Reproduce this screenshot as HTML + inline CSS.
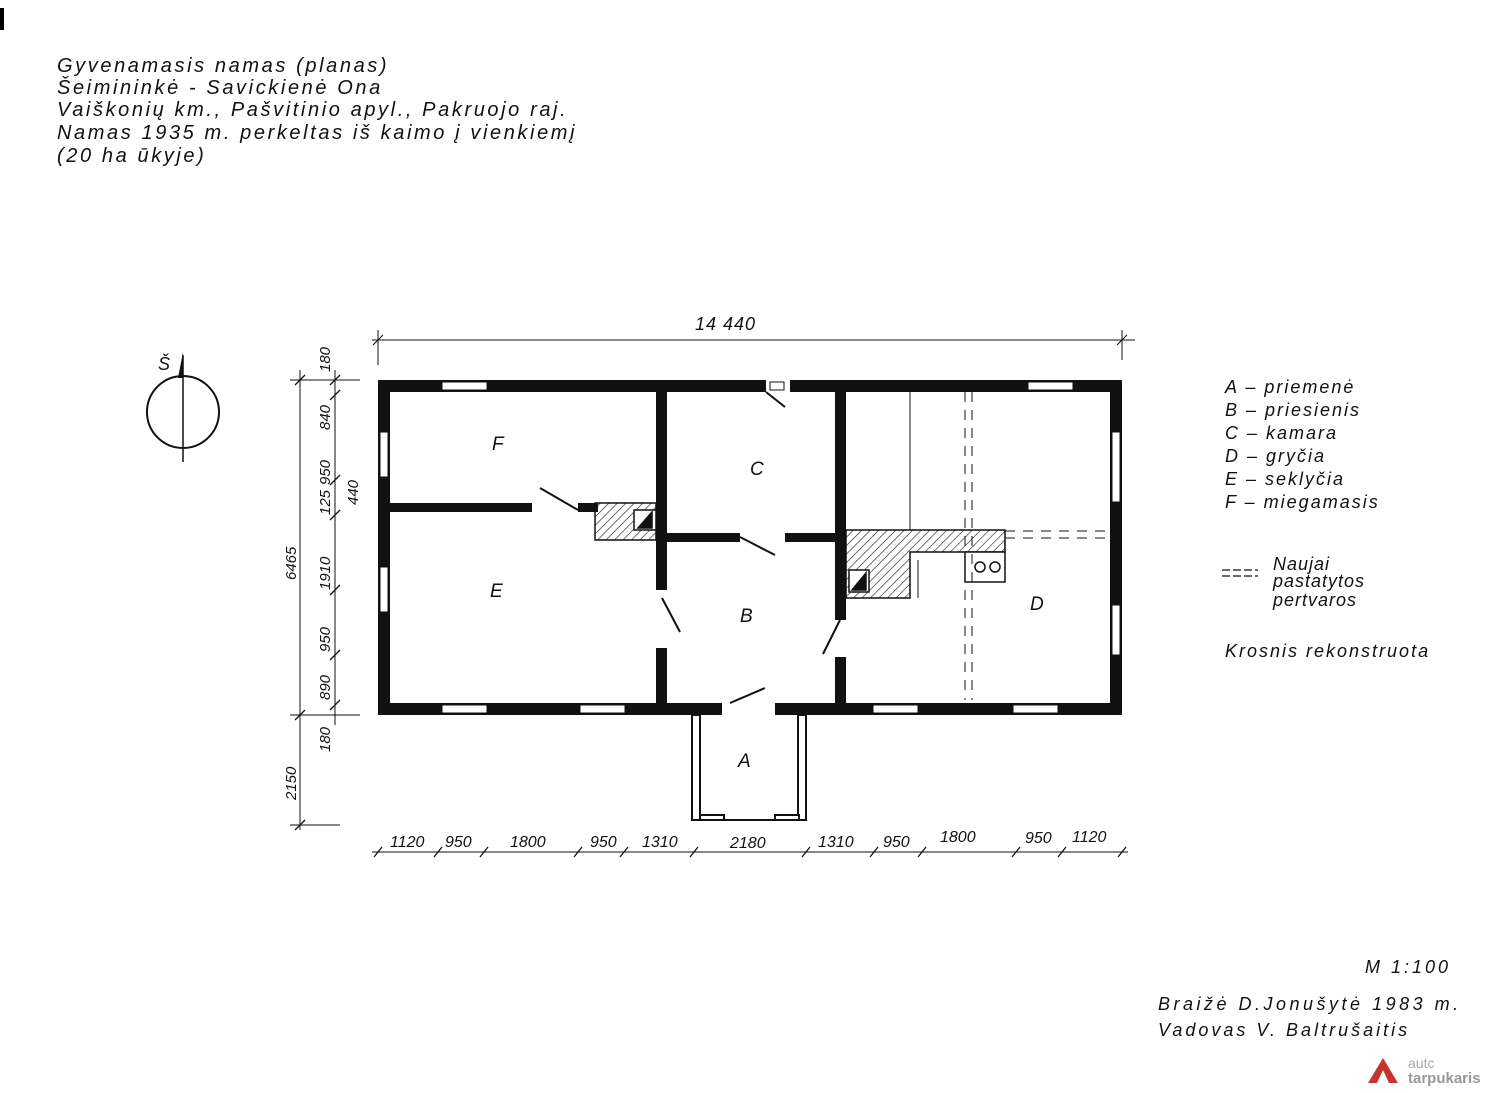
<!DOCTYPE html>
<html><head><meta charset="utf-8"><style>
html,body{margin:0;padding:0;background:#fff}
svg{display:block}
text{font-family:"Liberation Sans",sans-serif;font-style:italic;fill:#111}
</style></head><body>
<svg width="1500" height="1093" viewBox="0 0 1500 1093" xmlns="http://www.w3.org/2000/svg">
<rect width="1500" height="1093" fill="#fff"/>
<defs>
<pattern id="h" width="6" height="6" patternUnits="userSpaceOnUse" patternTransform="rotate(45)">
<line x1="0" y1="0" x2="0" y2="6" stroke="#111" stroke-width="1.2"/></pattern>
</defs>
<rect x="0" y="8" width="4" height="22" fill="#000"/>
<g font-size="20" letter-spacing="2.6">
<text x="57" y="72">Gyvenamasis namas (planas)</text>
<text x="57" y="94">Šeimininkė - Savickienė Ona</text>
<text x="57" y="116">Vaiškonių km., Pašvitinio apyl., Pakruojo raj.</text>
<text x="57" y="139">Namas  1935 m. perkeltas iš kaimo į vienkiemį</text>
<text x="57" y="162">(20 ha ūkyje)</text>
</g>
<!-- north -->
<circle cx="183" cy="412" r="36" fill="none" stroke="#111" stroke-width="2"/>
<line x1="183" y1="355" x2="183" y2="462" stroke="#111" stroke-width="1.5"/>
<polygon points="183,352 178,378 183,378" fill="#111"/>
<text x="158" y="370" font-size="18">Š</text>
<!-- walls -->
<g fill="#111">
<rect x="378" y="380" width="388" height="12"/>
<rect x="790" y="380" width="332" height="12"/>
<rect x="378" y="380" width="12" height="335"/>
<rect x="1110" y="380" width="12" height="335"/>
<rect x="378" y="703" width="344" height="12"/>
<rect x="775" y="703" width="347" height="12"/>
<rect x="390" y="503" width="142" height="9"/>
<rect x="656" y="392" width="11" height="198"/>
<rect x="656" y="648" width="11" height="55"/>
<rect x="667" y="533" width="73" height="9"/>
<rect x="785" y="533" width="60" height="9"/>
<rect x="835" y="392" width="11" height="228"/>
<rect x="835" y="657" width="11" height="46"/>
<rect x="578" y="503" width="20" height="9"/>
</g>
<!-- windows -->
<g fill="#fff" stroke="#111" stroke-width="1">
<rect x="442" y="382" width="45" height="8"/><rect x="1028" y="382" width="45" height="8"/>
<rect x="442" y="705" width="45" height="8"/><rect x="580" y="705" width="45" height="8"/>
<rect x="873" y="705" width="45" height="8"/><rect x="1013" y="705" width="45" height="8"/>
<rect x="380" y="432" width="8" height="45"/><rect x="380" y="567" width="8" height="45"/>
<rect x="1112" y="432" width="8" height="70"/><rect x="1112" y="605" width="8" height="50"/>
<rect x="770" y="382" width="14" height="8"/>
</g>
<!-- porch -->
<g stroke="#111" stroke-width="2" fill="none">
<rect x="692" y="715" width="8" height="105"/><rect x="798" y="715" width="8" height="105"/>
<line x1="692" y1="820" x2="806" y2="820"/>
<rect x="700" y="815" width="24" height="5" fill="#fff"/><rect x="775" y="815" width="24" height="5" fill="#fff"/>
</g>
<!-- doors -->
<g stroke="#111" stroke-width="2">
<line x1="766" y1="392" x2="785" y2="407"/>
<line x1="540" y1="488" x2="578" y2="510"/>
<line x1="740" y1="537" x2="775" y2="555"/>
<line x1="662" y1="598" x2="680" y2="632"/>
<line x1="840" y1="620" x2="823" y2="654"/>
<line x1="730" y1="703" x2="765" y2="688"/>
</g>
<!-- stoves -->
<g stroke="#111" stroke-width="1.5">
<rect x="595" y="503" width="61" height="37" fill="url(#h)"/>
<rect x="634" y="510" width="22" height="20" fill="#fff"/>
<polygon points="638,528 652,512 652,528" fill="#111"/>
<path d="M846 530 H1005 V552 H910 V598 H846 Z" fill="url(#h)"/>
<rect x="849" y="570" width="20" height="22" fill="#fff"/>
<polygon points="852,590 866,573 866,590" fill="#111"/>
<rect x="965" y="552" width="40" height="30" fill="#fff"/>
<circle cx="980" cy="567" r="5" fill="none"/><circle cx="995" cy="567" r="5" fill="none"/>
</g>
<g stroke="#111" stroke-width="1" fill="none">
<line x1="910" y1="392" x2="910" y2="530"/>
<line x1="918" y1="560" x2="918" y2="598"/>
<line x1="965" y1="392" x2="965" y2="700" stroke-dasharray="10 8"/>
<line x1="972" y1="392" x2="972" y2="700" stroke-dasharray="10 8"/>
<line x1="1005" y1="531" x2="1110" y2="531" stroke-dasharray="10 8"/>
<line x1="1005" y1="538" x2="1110" y2="538" stroke-dasharray="10 8"/>
</g>
<g font-size="19">
<text x="492" y="450">F</text><text x="750" y="475">C</text><text x="490" y="597">E</text>
<text x="740" y="622">B</text><text x="1030" y="610">D</text><text x="738" y="767">A</text>
</g>
<!-- dimensions -->
<g stroke="#111" stroke-width="1" fill="none">
<line x1="372" y1="340" x2="1135" y2="340"/>
<line x1="378" y1="330" x2="378" y2="365"/><line x1="1122" y1="330" x2="1122" y2="360"/>
<line x1="373" y1="345" x2="383" y2="335"/><line x1="1117" y1="345" x2="1127" y2="335"/>
<line x1="372" y1="852" x2="1128" y2="852"/>
<line x1="335" y1="370" x2="335" y2="725"/>
<line x1="300" y1="370" x2="300" y2="830"/>
<line x1="290" y1="380" x2="360" y2="380"/><line x1="290" y1="715" x2="360" y2="715"/>
<line x1="290" y1="825" x2="340" y2="825"/>
<g stroke-width="1.3">
<path d="M374 857 L382 847 M434 857 L442 847 M480 857 L488 847 M574 857 L582 847 M620 857 L628 847 M690 857 L698 847 M802 857 L810 847 M870 857 L878 847 M918 857 L926 847 M1012 857 L1020 847 M1058 857 L1066 847 M1118 857 L1126 847"/>
<path d="M295 385 L305 375 M330 385 L340 375 M330 400 L340 390 M330 485 L340 475 M330 520 L340 510 M330 595 L340 585 M330 660 L340 650 M330 710 L340 700 M295 720 L305 710 M295 830 L305 820"/>
</g>
</g>
<text x="695" y="330" font-size="18" letter-spacing="1">14 440</text>
<g font-size="16">
<text x="390" y="847">1120</text><text x="445" y="847">950</text><text x="510" y="847">1800</text>
<text x="590" y="847">950</text><text x="642" y="847">1310</text><text x="730" y="848">2180</text>
<text x="818" y="847">1310</text><text x="883" y="847">950</text><text x="940" y="842">1800</text>
<text x="1025" y="843">950</text><text x="1072" y="842">1120</text>
</g>
<g font-size="15">
<text transform="translate(330,372) rotate(-90)">180</text>
<text transform="translate(330,430) rotate(-90)">840</text>
<text transform="translate(330,485) rotate(-90)">950</text>
<text transform="translate(330,515) rotate(-90)">125</text>
<text transform="translate(358,505) rotate(-90)">440</text>
<text transform="translate(330,590) rotate(-90)">1910</text>
<text transform="translate(330,652) rotate(-90)">950</text>
<text transform="translate(330,700) rotate(-90)">890</text>
<text transform="translate(330,752) rotate(-90)">180</text>
<text transform="translate(296,580) rotate(-90)">6465</text>
<text transform="translate(296,800) rotate(-90)">2150</text>
</g>
<g font-size="18" letter-spacing="2">
<text x="1225" y="393">A – priemenė</text>
<text x="1225" y="416">B – priesienis</text>
<text x="1225" y="439">C – kamara</text>
<text x="1225" y="462">D – gryčia</text>
<text x="1225" y="485">E – seklyčia</text>
<text x="1225" y="508">F – miegamasis</text>
<text x="1273" y="570" letter-spacing="1">Naujai</text>
<text x="1273" y="587" letter-spacing="1">pastatytos</text>
<text x="1273" y="606" letter-spacing="1">pertvaros</text>
<text x="1225" y="657">Krosnis rekonstruota</text>
<text x="1365" y="973" letter-spacing="3">M 1:100</text>
<text x="1158" y="1010" letter-spacing="3.5">Braižė D.Jonušytė  1983 m.</text>
<text x="1158" y="1036" letter-spacing="3">Vadovas V. Baltrušaitis</text>
</g>
<g stroke="#111" stroke-width="1.2"><line x1="1222" y1="570" x2="1258" y2="570" stroke-dasharray="8 3"/><line x1="1222" y1="576" x2="1258" y2="576" stroke-dasharray="8 3"/></g>
<polygon points="1383,1058 1368,1083 1398,1083" fill="#c7332e"/>
<polygon points="1383,1070 1377,1083 1389,1083" fill="#fff"/>
<text x="1408" y="1068" font-size="14" style="font-style:normal;fill:#aaa">autc</text>
<text x="1408" y="1083" font-size="15" style="font-style:normal;font-weight:bold;fill:#999">tarpukaris</text>
</svg>
</body></html>
